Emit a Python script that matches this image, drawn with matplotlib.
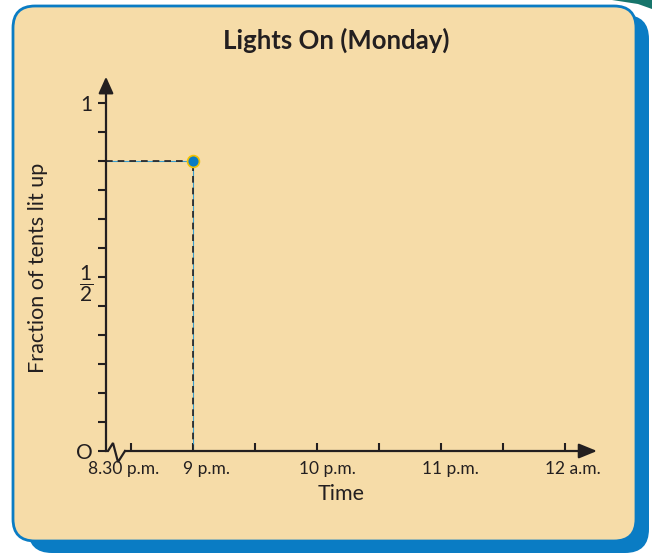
import numpy as np
import matplotlib
matplotlib.use("Agg")
import matplotlib.pyplot as plt
from matplotlib.patches import FancyBboxPatch, Polygon
from matplotlib.transforms import ScaledTranslation

plt.rcParams['font.family'] = ['Lato', 'DejaVu Sans']
plt.rcParams['mathtext.fontset'] = 'custom'
plt.rcParams['mathtext.rm'] = 'Lato'
plt.rcParams['mathtext.it'] = 'Lato'

# ---- data ----
title = "Lights On (Monday)"
x_label = "Time"
y_label = "Fraction of tents lit up"
x_tick_vals = [8.5, 9, 10, 11, 12]
x_tick_labels = ["8.30 p.m.", "9 p.m.", "10 p.m.", "11 p.m.", "12 a.m."]
x_minor_vals = [9.5, 10.5, 11.5]
y_tick_vals = [0, 0.5, 1]
y_tick_labels = ["O", r"$\dfrac{1}{2}$", "1"]
y_minor_vals = [1/12, 2/12, 3/12, 4/12, 5/12, 7/12, 8/12, 9/12, 10/12, 11/12]
point_time = [9.0]
point_frac = [0.833]

INK = "#231f20"
BEIGE = "#f6dca8"
BLUE = "#0a7cc4"

fig = plt.figure(figsize=(6.52, 5.54), dpi=100)
fig.patch.set_facecolor("white")

# ---- card background (pixel coords) ----
bg = fig.add_axes([0, 0, 1, 1])
bg.set_xlim(0, 652)
bg.set_ylim(554, 0)
bg.axis("off")
bg.add_patch(Polygon([(612, 0), (652, 0), (652, 9), (638, 4)], closed=True,
                     facecolor="#17756b", edgecolor="none"))
bg.add_patch(FancyBboxPatch((28, 15), 621, 538, boxstyle="round,pad=0,rounding_size=24",
                            facecolor=BLUE, edgecolor="none"))
bg.add_patch(FancyBboxPatch((13, 6), 623, 535, boxstyle="round,pad=0,rounding_size=22",
                            facecolor=BEIGE, edgecolor=BLUE, linewidth=2))
bg.text(336, 40, title, ha="center", va="center", fontsize=18.5,
        fontweight="bold", color=INK)
bg.text(38, 268, y_label, ha="center", va="center", rotation=90,
        fontsize=15.5, color=INK)
bg.text(341, 494, x_label, ha="center", va="center", fontsize=15.5, color=INK)

# ---- chart axes ----
x0, x1 = 8.298, 12.3
y0, y1 = 0.0, 1.08
left, right = 106 / 652, 602 / 652
bottom, top = 1 - 451 / 554, 1 - 75 / 554
ax = fig.add_axes([left, bottom, right - left, top - bottom])
ax.set_xlim(x0, x1)
ax.set_ylim(y0, y1)
ax.patch.set_alpha(0)
for s in ax.spines.values():
    s.set_visible(False)

ax.set_xticks(x_tick_vals)
ax.set_xticklabels(x_tick_labels)
ax.set_xticks(x_minor_vals, minor=True)
ax.set_yticks(y_tick_vals)
ax.set_yticklabels(y_tick_labels)
ax.set_yticks(y_minor_vals, minor=True)
ax.tick_params(axis="x", which="both", direction="in", length=5.5, width=1.5,
               color=INK, labelsize=12.5, labelcolor=INK, pad=7)
ax.tick_params(axis="y", which="both", direction="out", length=5.5, width=1.5,
               color=INK, labelsize=15, labelcolor=INK, pad=4)
x_label_shift = [-7, 13, 10, 10, 8]
for lab, dx in zip(ax.get_xticklabels(), x_label_shift):
    lab.set_transform(lab.get_transform() + ScaledTranslation(dx / 100, 0, fig.dpi_scale_trans))

# axes lines with arrowheads
px = 1 / 124.0   # hours per pixel
py = 1 / 348.0   # fraction per pixel
ax.annotate("", xy=(x0, 1.075), xytext=(x0, 0),
            arrowprops=dict(arrowstyle="-|>,head_length=1.0,head_width=0.45",
                            mutation_scale=10, lw=1.6, color=INK,
                            shrinkA=0, shrinkB=0), annotation_clip=False)
zig_x = [x0, x0 + 2 * px, x0 + 7 * px, x0 + 12 * px, x0 + 19 * px]
zig_y = [0, 0, 8 * py, -11 * py, 0]
ax.plot(zig_x, zig_y, color=INK, lw=1.6, clip_on=False, solid_joinstyle="miter")
ax.annotate("", xy=(12.26, 0), xytext=(zig_x[-1], 0),
            arrowprops=dict(arrowstyle="-|>,head_length=1.1,head_width=0.45",
                            mutation_scale=10, lw=1.6, color=INK,
                            shrinkA=0, shrinkB=0), annotation_clip=False)

# dashed guides to the point
for xs, ys in [([x0, point_time[0]], [point_frac[0], point_frac[0]]),
               ([point_time[0], point_time[0]], [0, point_frac[0]])]:
    ax.plot(xs, ys, color="#3a9fd0", lw=0.8, zorder=2)
    ax.plot(xs, ys, color=INK, lw=1.2, dashes=(4, 3), zorder=3)

ax.plot(point_time, point_frac, "o", markersize=8.5, markerfacecolor=BLUE,
        markeredgecolor="#f2c200", markeredgewidth=1.2, zorder=5)

fig.savefig("out.png", dpi=100, facecolor=fig.get_facecolor())
